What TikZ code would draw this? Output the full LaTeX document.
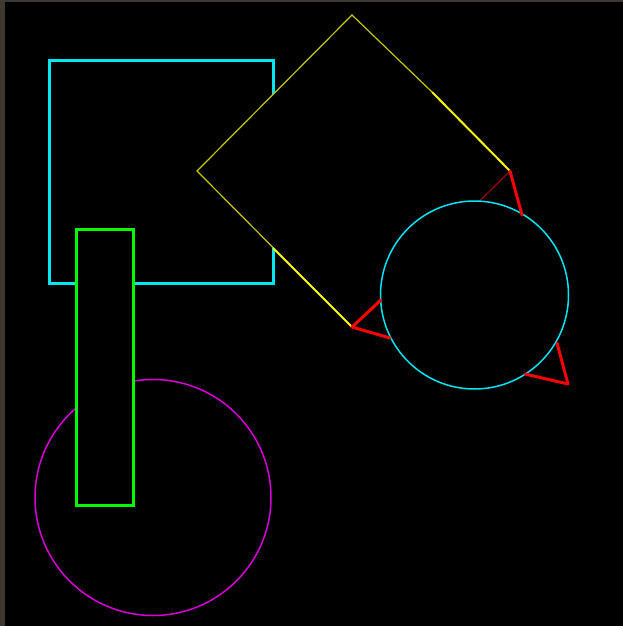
\documentclass[tikz,border=0pt]{standalone}
\usepackage{tikz}
\definecolor{frameclr}{RGB}{62,56,48}
\definecolor{cyanclr}{RGB}{0,230,245}
\definecolor{yellowdim}{RGB}{200,200,0}
\definecolor{yellowclr}{RGB}{245,245,0}
\definecolor{greenclr}{RGB}{0,250,0}
\definecolor{magentaclr}{RGB}{215,0,215}
\definecolor{redclr}{RGB}{250,0,0}
\definecolor{reddim}{RGB}{180,0,0}
\tikzset{
  thinedge/.style={yellowdim, line width=1.2pt},
  thickedge/.style={yellowclr, line width=2pt},
  wedge/.style={redclr, line width=3pt, line join=round, line cap=round},
}
\begin{document}
\begin{tikzpicture}[x=1pt,y=-1pt]
    \useasboundingbox (0,0) rectangle (623,626);
    \fill[frameclr] (0,0) rectangle (623,626);
    \fill[black] (5,2) rectangle (623,626);
    % square
    \draw[cyanclr, line width=3pt, fill=black] (49,61) rectangle (273,283);
    % diamond
    \coordinate (top) at (352,15);
    \coordinate (left) at (197,171);
    \coordinate (bottom) at (352,327);
    \coordinate (right) at (510,171);
    \fill[black] (top) -- (right) -- (bottom) -- (left) -- cycle;
    \draw[thinedge] (bottom) -- (left) -- (top) -- (432,92);
    \draw[thickedge] (432,92) -- (right);
    \draw[thickedge] (273,248) -- (bottom);
    \draw[reddim, line width=1pt] (right) -- (bottom);
    % circle on the diamond
    \draw[cyanclr, line width=1.5pt, fill=black] (474.5,295) circle (94);
    \draw[wedge] (522,215) -- (right);
    \draw[wedge] (381,300) -- (bottom) -- (390,338);
    \draw[wedge] (557,343) -- (568,384) -- (525,374);
    % lower circle and bar
    \draw[magentaclr, line width=1.5pt] (153,497.5) circle (118);
    \draw[greenclr, line width=3pt, fill=black] (76,229) rectangle (133,505);
\end{tikzpicture}
\end{document}
